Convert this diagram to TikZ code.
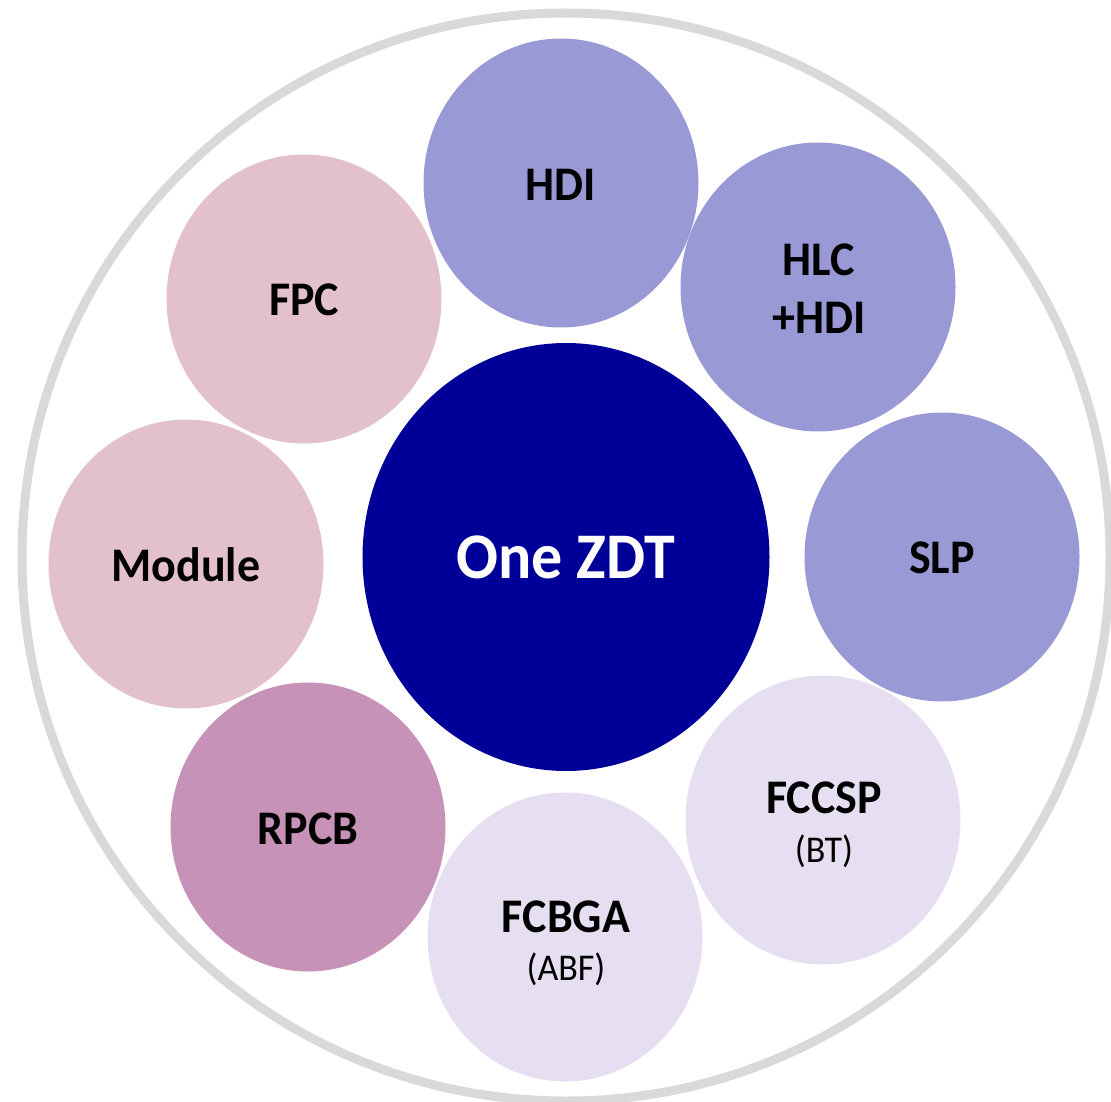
\documentclass[tikz,border=0pt]{standalone}
\usepackage{fontspec}
\usepackage{graphicx}
\setmainfont{Carlito}
\usetikzlibrary{shapes.geometric}
\definecolor{outerring}{HTML}{D9D9D9}
\definecolor{coreblue}{HTML}{000099}
\definecolor{lavblue}{HTML}{9999D6}
\definecolor{rosepink}{HTML}{E3C1CC}
\definecolor{mauve}{HTML}{C692B8}
\definecolor{palelilac}{HTML}{E6DEF1}
\newcommand{\vstretch}[1]{\scalebox{1}[1.05]{#1}}
\begin{document}
\begin{tikzpicture}[x=1pt,y=-1pt,
  bubble/.style={ellipse, minimum width=275pt, minimum height=289pt, inner sep=0pt},
  core/.style={ellipse, minimum width=407pt, minimum height=428pt, inner sep=0pt, fill=coreblue},
  lbl/.style={anchor=base, inner sep=0pt, text=black, font=\fontsize{46}{46}\selectfont\bfseries},
  sublbl/.style={anchor=base, inner sep=0pt, text=black, font=\fontsize{36}{36}\selectfont},
  corelbl/.style={anchor=base, inner sep=0pt, text=white, font=\fontsize{62}{62}\selectfont\bfseries}
]
\useasboundingbox (0,0) rectangle (1111,1102);
\node[circle, draw=outerring, line width=9pt, minimum size=1088pt, inner sep=0pt] (ring) at (566,557) {};
\node[core] (zdt) at (566,557) {};
\node[bubble, fill=lavblue] (hdi) at (561,183) {};
\node[bubble, fill=lavblue] (hlc) at (818,287) {};
\node[bubble, fill=lavblue] (slp) at (942,557) {};
\node[bubble, fill=palelilac] (fccsp) at (823,820) {};
\node[bubble, fill=palelilac] (fcbga) at (565,937) {};
\node[bubble, fill=mauve] (rpcb) at (308,827) {};
\node[bubble, fill=rosepink] (module) at (186,564) {};
\node[bubble, fill=rosepink] (fpc) at (304,299) {};
% labels
\node[corelbl] (tzdt) at (566,578) {\vstretch{One ZDT}};
\node[lbl] (thdi) at (561,201) {\vstretch{HDI}};
\node[lbl] (thlc1) at (819,275) {\vstretch{HLC}};
\node[lbl] (thlc2) at (819,333) {\vstretch{+HDI}};
\node[lbl] (tslp) at (942,573) {\vstretch{SLP}};
\node[lbl] (tfccsp1) at (824,813) {\vstretch{FCCSP}};
\node[sublbl] (tfccsp2) at (824,862) {\vstretch{(BT)}};
\node[lbl] (tfcbga1) at (566,932) {\vstretch{FCBGA}};
\node[sublbl] (tfcbga2) at (566,980) {\vstretch{(ABF)}};
\node[lbl] (trpcb) at (308,844) {\vstretch{RPCB}};
\node[lbl] (tmodule) at (186,581) {\vstretch{Module}};
\node[lbl] (tfpc) at (304,315) {\vstretch{FPC}};
\end{tikzpicture}
\end{document}
